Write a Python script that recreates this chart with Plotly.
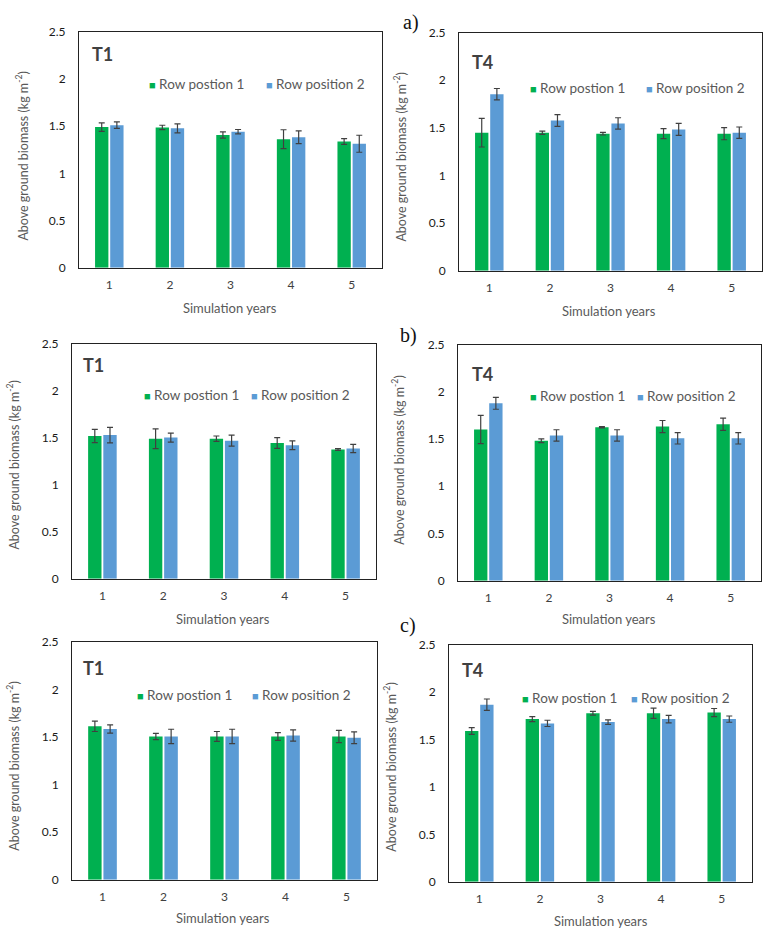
import plotly.graph_objects as go

years = ["1", "2", "3", "4", "5"]
series_names = ["Row postion 1", "Row position 2"]
ytick_vals = [0, 0.5, 1, 1.5, 2, 2.5]
ytick_text = ["0", "0.5", "1", "1.5", "2", "2.5"]

# a) T1
a_t1_r1 = [1.49, 1.486, 1.406, 1.361, 1.337]
a_t1_r1_err = [0.045, 0.023, 0.033, 0.10, 0.03]
a_t1_r2 = [1.51, 1.476, 1.441, 1.382, 1.313]
a_t1_r2_err = [0.035, 0.047, 0.023, 0.068, 0.09]
# a) T4
a_t4_r1 = [1.449, 1.449, 1.439, 1.439, 1.439]
a_t4_r1_err = [0.15, 0.017, 0.014, 0.053, 0.064]
a_t4_r2 = [1.853, 1.577, 1.546, 1.484, 1.449]
a_t4_r2_err = [0.06, 0.062, 0.06, 0.062, 0.06]
# b) T1
b_t1_r1 = [1.517, 1.489, 1.489, 1.443, 1.374]
b_t1_r1_err = [0.07, 0.105, 0.028, 0.058, 0.01]
b_t1_r2 = [1.527, 1.50, 1.468, 1.419, 1.384]
b_t1_r2_err = [0.082, 0.047, 0.058, 0.047, 0.044]
# b) T4
b_t4_r1 = [1.601, 1.482, 1.625, 1.632, 1.656]
b_t4_r1_err = [0.15, 0.02, 0.007, 0.064, 0.064]
b_t4_r2 = [1.878, 1.538, 1.538, 1.507, 1.507]
b_t4_r2_err = [0.063, 0.06, 0.06, 0.06, 0.06]
# c) T1
c_t1_r1 = [1.612, 1.505, 1.505, 1.505, 1.505]
c_t1_r1_err = [0.055, 0.033, 0.052, 0.04, 0.064]
c_t1_r2 = [1.584, 1.505, 1.505, 1.515, 1.491]
c_t1_r2_err = [0.043, 0.076, 0.076, 0.059, 0.062]
# c) T4
c_t4_r1 = [1.59, 1.715, 1.777, 1.777, 1.784]
c_t4_r1_err = [0.036, 0.026, 0.02, 0.054, 0.043]
c_t4_r2 = [1.867, 1.67, 1.684, 1.715, 1.715]
c_t4_r2_err = [0.06, 0.033, 0.024, 0.04, 0.033]

W, H = 767, 938
GREEN = "#00B050"
BLUE = "#5B9BD5"
FONT = "Lato"

panels = [
    dict(r1=a_t1_r1, e1=a_t1_r1_err, r2=a_t1_r2, e2=a_t1_r2_err, lab="T1",
         box=(79, 382, 24, 264), tpos=(90, 47), yt=(22, 151), xt=(230, 305), leg=(147, 77), sp=117),
    dict(r1=a_t4_r1, e1=a_t4_r1_err, r2=a_t4_r2, e2=a_t4_r2_err, lab="T4",
         box=(459, 762, 25, 267), tpos=(470, 55), yt=(400, 152), xt=(609, 308), leg=(528, 81), sp=116),
    dict(r1=b_t1_r1, e1=b_t1_r1_err, r2=b_t1_r2, e2=b_t1_r2_err, lab="T1",
         box=(72, 376, 341, 580), tpos=(81, 363), yt=(13, 465), xt=(223, 621), leg=(142, 393), sp=107),
    dict(r1=b_t4_r1, e1=b_t4_r1_err, r2=b_t4_r2, e2=b_t4_r2_err, lab="T4",
         box=(458, 761, 342, 582), tpos=(470, 372), yt=(398, 460), xt=(609, 621), leg=(528, 394), sp=107),
    dict(r1=c_t1_r1, e1=c_t1_r1_err, r2=c_t1_r2, e2=c_t1_r2_err, lab="T1",
         box=(72, 377, 644, 886), tpos=(81, 671), yt=(13, 771), xt=(223, 925), leg=(135, 698), sp=115),
    dict(r1=c_t4_r1, e1=c_t4_r1_err, r2=c_t4_r2, e2=c_t4_r2_err, lab="T4",
         box=(449, 752, 647, 888), tpos=(460, 673), yt=(390, 772), xt=(601, 928), leg=(520, 701), sp=109),
]

fig = go.Figure()
annotations = []

def px(x):
    return x / W

def py(y):
    return 1 - y / H

for i, p in enumerate(panels):
    n = i + 1
    xa = "x" if n == 1 else f"x{n}"
    ya = "y" if n == 1 else f"y{n}"
    for name, vals, errs, col in [(series_names[0], p["r1"], p["e1"], GREEN),
                                  (series_names[1], p["r2"], p["e2"], BLUE)]:
        fig.add_trace(go.Bar(
            x=years, y=vals, name=name, xaxis=xa, yaxis=ya, showlegend=False,
            marker=dict(color=col, line=dict(width=0)),
            error_y=dict(type="data", array=errs, visible=True, color="#404040",
                         thickness=1.2, width=3),
        ))
    x0, x1, y0, y1 = p["box"]
    axx = dict(domain=[px(x0), px(x1)], anchor=ya, type="category",
               showline=True, mirror=True, linecolor="#222222", linewidth=1,
               showgrid=False, ticks="", zeroline=False,
               tickfont=dict(family=FONT, size=12, color="#404040"),
               ticklabelstandoff=6, fixedrange=True)
    axy = dict(domain=[py(y1), py(y0)], anchor=xa, range=[0, 2.5],
               tickvals=ytick_vals, ticktext=ytick_text,
               showline=True, mirror=True, linecolor="#222222", linewidth=1,
               showgrid=False, ticks="", zeroline=False,
               tickfont=dict(family=FONT, size=12, color="#1a1a1a"),
               ticklabelstandoff=10, fixedrange=True)
    fig.update_layout({("xaxis" if n == 1 else f"xaxis{n}"): axx,
                       ("yaxis" if n == 1 else f"yaxis{n}"): axy})
    # legend entries as text
    lx, ly = p["leg"]
    for k, (name, col) in enumerate([(series_names[0], GREEN), (series_names[1], BLUE)]):
        annotations.append(dict(
            text=f"<span style='color:{col};font-size:11px'>■</span> {name}",
            x=px(lx + k * p["sp"]), y=py(ly), xref="paper", yref="paper",
            xanchor="left", yanchor="middle", showarrow=False,
            font=dict(family=FONT, size=13.5, color="#595959")))
    tx, ty = p["tpos"]
    annotations.append(dict(text="<b>" + p["lab"] + "</b>", x=px(tx), y=py(ty),
                            xref="paper", yref="paper", xanchor="left", yanchor="middle",
                            showarrow=False, font=dict(family=FONT, size=18, color="#404040")))
    yx, yy = p["yt"]
    annotations.append(dict(text="Above ground biomass (kg m<sup>-2</sup>)", x=px(yx), y=py(yy),
                            xref="paper", yref="paper", xanchor="center", yanchor="middle",
                            textangle=-90, showarrow=False,
                            font=dict(family=FONT, size=12.5, color="#595959")))
    xx, xy = p["xt"]
    annotations.append(dict(text="Simulation years", x=px(xx), y=py(xy),
                            xref="paper", yref="paper", xanchor="center", yanchor="middle",
                            showarrow=False, font=dict(family=FONT, size=13, color="#595959")))

for lab, (lx, ly) in [("a)", (401, 15)), ("b)", (398, 333)), ("c)", (398, 628))]:
    annotations.append(dict(text=lab, x=px(lx), y=py(ly), xref="paper", yref="paper",
                            xanchor="left", yanchor="middle", showarrow=False,
                            font=dict(family="Liberation Serif", size=20, color="#111111")))

fig.update_layout(
    width=W, height=H, margin=dict(l=0, r=0, t=0, b=0),
    paper_bgcolor="white", plot_bgcolor="white",
    barmode="group", bargap=0.5, bargroupgap=0.12,
    showlegend=False, annotations=annotations,
    font=dict(family=FONT),
)

fig.write_html("out.html", config={"displayModeBar": False})
